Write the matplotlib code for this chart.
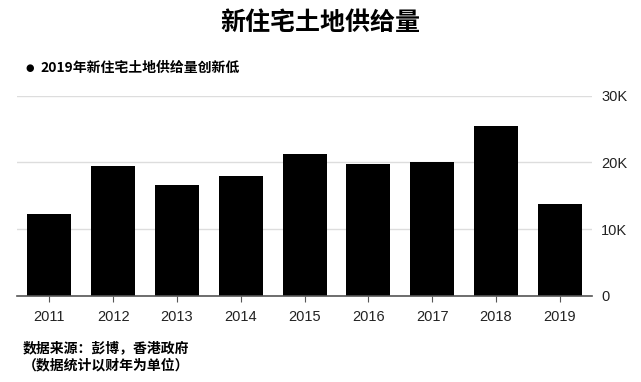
import matplotlib
matplotlib.use("Agg")
import matplotlib.pyplot as plt

plt.rcParams['font.family'] = ['Noto Sans CJK SC', 'DejaVu Sans']

years = ["2011", "2012", "2013", "2014", "2015", "2016", "2017", "2018", "2019"]
supply = [12300, 19500, 16600, 18000, 21200, 19800, 20100, 25500, 13800]
yticks = [0, 10000, 20000, 30000]
ytick_labels = ["0", "10K", "20K", "30K"]

fig = plt.figure(figsize=(6.41, 3.82), dpi=100)
ax = fig.add_axes([0.026, 0.226, 0.897, 0.523])

x = range(len(years))
ax.bar(x, supply, width=0.69, color="black", zorder=3)

ax.set_xlim(-0.514, 8.5)
ax.set_ylim(0, 30000)
ax.set_yticks(yticks)
ax.set_yticklabels(ytick_labels, family=["Liberation Sans", "DejaVu Sans"])
ax.yaxis.tick_right()
ax.tick_params(axis="y", length=0, pad=7, labelsize=10.5, labelcolor="#222222")
ax.set_xticks(list(x))
ax.set_xticklabels(years, family=["Liberation Sans", "DejaVu Sans"])
ax.tick_params(axis="x", length=4, width=0.8, color="#555555", pad=6,
               labelsize=10.5, labelcolor="#222222")

ax.grid(axis="y", color="#dddddd", linewidth=1, zorder=0)
for s in ["top", "right", "left"]:
    ax.spines[s].set_visible(False)
ax.spines["bottom"].set_color("#555555")
ax.spines["bottom"].set_linewidth(1.2)
ax.spines["bottom"].set_zorder(4)

fig.text(0.5, 0.94, "新住宅土地供给量", ha="center", va="center",
         fontsize=18, fontweight="bold")
fig.text(0.047, 0.822, "●", ha="center", va="center", fontsize=7,
         family=["DejaVu Sans"])
fig.text(0.063, 0.822, "2019年新住宅土地供给量创新低", ha="left", va="center",
         fontsize=10, fontweight="bold")
fig.text(0.035, 0.088, "数据来源：彭博，香港政府", ha="left", va="center",
         fontsize=10, fontweight="bold")
fig.text(0.035, 0.043, "（数据统计以财年为单位）", ha="left", va="center",
         fontsize=10, fontweight="bold")

fig.savefig("out.png", dpi=100, facecolor="white")
